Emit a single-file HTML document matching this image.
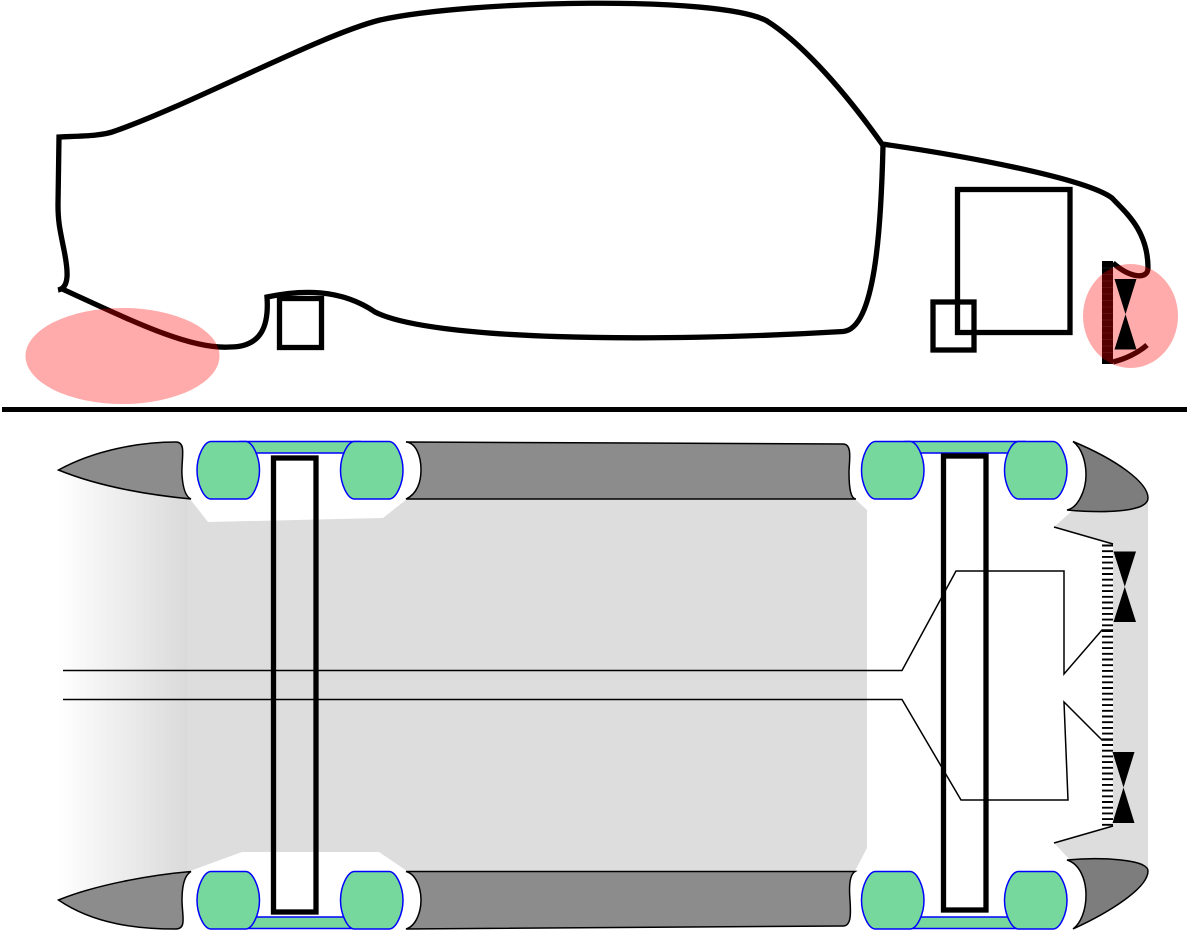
<!DOCTYPE html>
<html>
<head>
<meta charset="utf-8">
<style>
html,body{margin:0;padding:0;background:#fff;width:1187px;height:930px;overflow:hidden}
svg{display:block}
</style>
</head>
<body>
<svg xmlns="http://www.w3.org/2000/svg" width="1187" height="930" viewBox="0 0 1187 930">
<defs>
<linearGradient id="g" x1="58" y1="0" x2="188" y2="0" gradientUnits="userSpaceOnUse">
<stop offset="0" stop-color="#ffffff"/><stop offset="1" stop-color="#dadada"/>
</linearGradient>
<path id="w" d="M14,0 H48.500 C55.500,0 62.500,15 62.500,28.750 C62.500,42.500 55.500,57.500 48.500,57.500 H14 C7,57.500 0,42.500 0,28.750 C0,15 7,0 14,0 Z"/>
</defs>

<!-- top view floor -->
<polygon points="58,470 188,495 188,871 58,900" fill="url(#g)"/>
<polygon points="187,497 190,499 208,522 383,518 407,499 855,499 867,510 867,848 855,871 407,871 379,852 242,852 190,871 187,871" fill="#dddddd"/>
<polygon points="1073,510 1054,527 1113,544 1113,826 1054,843 1072,862 1148,872 1148,498" fill="#dddddd"/>

<!-- body panels -->
<g fill="#8c8c8c" stroke="#000" stroke-width="1.500">
<path d="M58.500,470 C95,450 140,442 176,442 C187,442 181,460 182,475 C183,490 186,497 191,499 C150,495 100,487 58.500,470 Z"/>
<path d="M58.500,900 C95,885 150,875 191,871.500 C185,875 182,885 182,900 C182,915 187,929 176,929 C140,929 95,925 58.500,900 Z"/>
<path d="M406,442 L843,444 C853,444 849,462 849,472 C849,485 850,499 856,499 L406,499 C417,494 421,482 421,470 C421,456 416,443 406,442 Z"/>
<path d="M406,871.500 H855 C849,875 849,888 850,900 C851,915 851,926 843,926 L406,929 C416,926 421,912 421,900 C421,888 416,874 406,871.500 Z"/>
</g>
<g fill="#7d7d7d" stroke="#000" stroke-width="1.500">
<path d="M1073,441.500 C1082,448 1086,462 1086,475 C1086,490 1078,508 1067,510 C1100,513 1148,513 1148,498 C1148,482 1115,459 1073,441.500 Z"/>
<path d="M1067,860 C1100,857 1148,859 1148,871 C1148,888 1110,912 1073,929 C1081,923 1086,910 1086,895 C1086,880 1080,864 1067,860 Z"/>
</g>

<!-- wheels -->
<g fill="#76d89c" stroke="#0000ff" stroke-width="1.500">
<rect x="240" y="441.500" width="120" height="11.500"/>
<rect x="240" y="917" width="120" height="11.500"/>
<rect x="905" y="441.500" width="120" height="11.500"/>
<rect x="905" y="917" width="120" height="11.500"/>
<use href="#w" x="197" y="441.500"/>
<use href="#w" x="340.500" y="441.500"/>
<use href="#w" x="197" y="871.500"/>
<use href="#w" x="340.500" y="871.500"/>
<use href="#w" x="861.500" y="441.500"/>
<use href="#w" x="1004.500" y="441.500"/>
<use href="#w" x="861.500" y="871.500"/>
<use href="#w" x="1004.500" y="871.500"/>
</g>

<!-- axles -->
<g fill="none" stroke="#000" stroke-width="5.300">
<rect x="273.500" y="458" width="42.500" height="454"/>
<rect x="943.500" y="456" width="42.500" height="454"/>
</g>

<!-- wiring -->
<g fill="none" stroke="#000" stroke-width="1.500">
<path d="M63,670.500 H902 L956,571 H1064 V674 L1102,630 H1113"/>
<path d="M63,699.500 H902 L961,800 H1068 L1064,702 L1102,740 H1113"/>
<path d="M1054,527 L1113,544"/>
<path d="M1054,843 L1113,826"/>
</g>

<!-- hatch -->
<path d="M1102,545.500 H1113 M1102,551.200 H1113 M1102,556.900 H1113 M1102,562.600 H1113 M1102,568.300 H1113 M1102,574 H1113 M1102,579.700 H1113 M1102,585.400 H1113 M1102,591.100 H1113 M1102,596.800 H1113 M1102,602.500 H1113 M1102,608.200 H1113 M1102,613.900 H1113 M1102,619.600 H1113 M1102,625.300 H1113 M1102,631 H1113 M1102,636.700 H1113 M1102,642.400 H1113 M1102,648.100 H1113 M1102,653.800 H1113 M1102,659.500 H1113 M1102,665.200 H1113 M1102,670.900 H1113 M1102,676.600 H1113 M1102,682.300 H1113 M1102,688 H1113 M1102,693.700 H1113 M1102,699.400 H1113 M1102,705.100 H1113 M1102,710.800 H1113 M1102,716.500 H1113 M1102,722.200 H1113 M1102,727.900 H1113 M1102,733.600 H1113 M1102,739.300 H1113 M1102,745 H1113 M1102,750.700 H1113 M1102,756.400 H1113 M1102,762.100 H1113 M1102,767.800 H1113 M1102,773.500 H1113 M1102,779.200 H1113 M1102,784.900 H1113 M1102,790.600 H1113 M1102,796.300 H1113 M1102,802 H1113 M1102,807.700 H1113 M1102,813.400 H1113 M1102,819.100 H1113 M1102,824.800 H1113" stroke="#000" stroke-width="1.900" fill="none"/>

<!-- bowties (top view) -->
<g fill="#000">
<polygon points="1113.500,551.500 1136,551.500 1113.500,622 1136,622"/>
<polygon points="1112.500,752 1134.500,752 1112.500,823 1134.500,823"/>
</g>

<!-- side view -->
<rect x="1102" y="261" width="11" height="103" fill="#000"/>
<path d="M1102,268 H1113 M1102,274.500 H1113 M1102,281 H1113 M1102,287.500 H1113 M1102,294 H1113 M1102,300.500 H1113 M1102,307 H1113 M1102,313.500 H1113 M1102,320 H1113 M1102,326.500 H1113 M1102,333 H1113 M1102,339.500 H1113 M1102,346 H1113 M1102,352.500 H1113" stroke="#333" stroke-width="0.600" fill="none"/>
<g fill="none" stroke="#000" stroke-width="5.300">
<path d="M58,290 C70,288 68,270 64,250 C60,230 58,222 58,205 L59,137 C80,136 103,136 115,131 C190,105 320,35 380,20 C470,0 720,-5 767,21 C797,40 838,82 882,144 C960,155 1085,178 1112,198 C1125,212 1148,230 1148,268 C1148,280 1130,278 1113,263"/>
<path d="M60,288 C130,320 190,350 230,347 C262,347 269,325 267,297 C300,290 340,288 375,312 C430,340 650,343 843,331.500 C875,329 881,230 883,146"/>
<path d="M1113,362 C1125,359 1138,353 1147,345"/>
<rect x="279.500" y="298.500" width="42" height="49"/>
<rect x="957.500" y="189.500" width="112.500" height="143"/>
<rect x="933" y="302" width="41" height="48"/>
</g>
<ellipse cx="122.500" cy="356" rx="97" ry="48" fill="#ff0000" fill-opacity="0.330"/>
<ellipse cx="1130.500" cy="316" rx="47.500" ry="52" fill="#ff0000" fill-opacity="0.330"/>
<polygon points="1114.500,279 1136.500,279 1114.500,349.500 1136.500,349.500" fill="#000"/>

<!-- divider -->
<line x1="2" y1="409.500" x2="1187" y2="409.500" stroke="#000" stroke-width="5"/>
</svg>
</body>
</html>
